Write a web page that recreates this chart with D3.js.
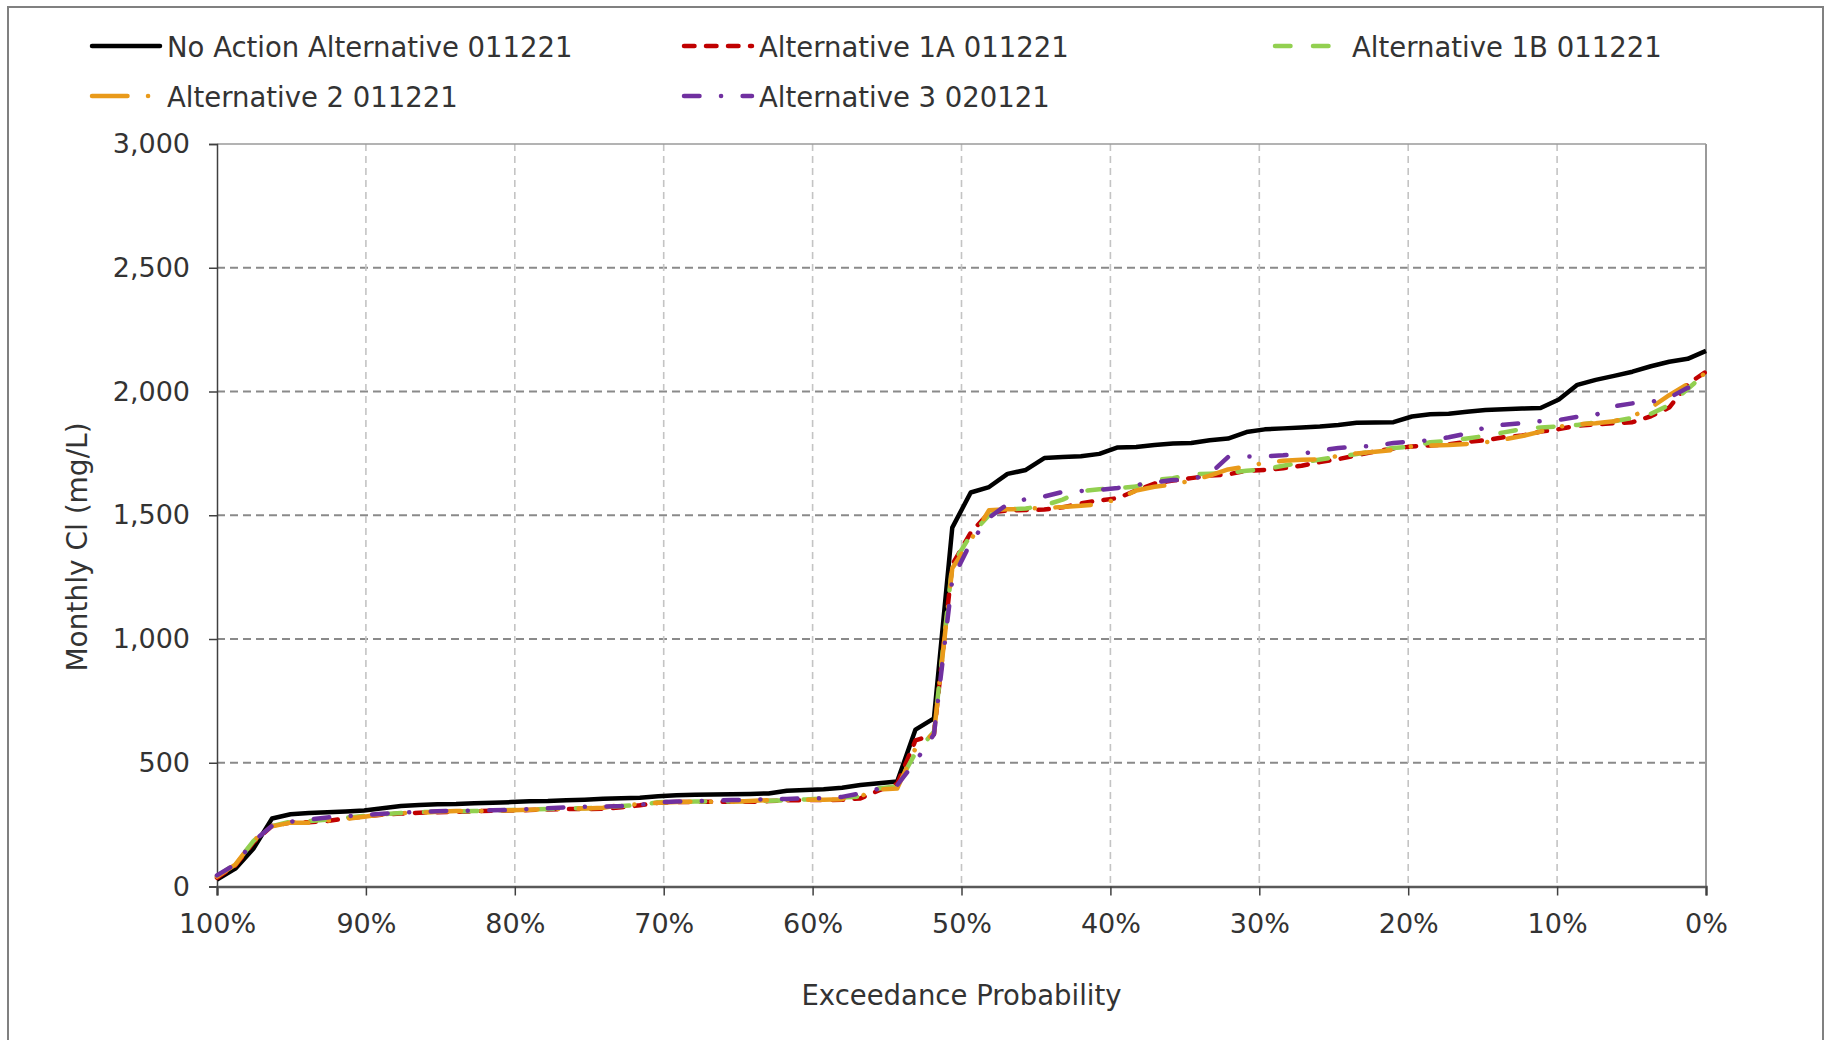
<!DOCTYPE html>
<html><head><meta charset="utf-8">
<script src="https://cdn.jsdelivr.net/npm/d3@7"></script>
<style>
body{margin:0;background:#fff}
svg{display:block}
text{font-family:"DejaVu Sans",sans-serif;fill:#333333}
</style>
</head><body>
<svg id="chart" width="1836" height="1040"></svg>
<script>
// ---------- DATA ----------
const exceedance = [100,98.77,97.53,96.30,95.06,93.83,92.59,91.36,90.12,88.89,87.65,86.42,85.19,83.95,82.72,81.48,80.25,79.01,77.78,76.54,75.31,74.07,72.84,71.60,70.37,69.14,67.90,66.67,65.43,64.20,62.96,61.73,60.49,59.26,58.02,56.79,55.56,54.32,53.09,51.85,50.62,49.38,48.15,46.91,45.68,44.44,43.21,41.98,40.74,39.51,38.27,37.04,35.80,34.57,33.33,32.10,30.86,29.63,28.40,27.16,25.93,24.69,23.46,22.22,20.99,19.75,18.52,17.28,16.05,14.81,13.58,12.35,11.11,9.88,8.64,7.41,6.17,4.94,3.70,2.47,1.23,0];

const noAction = [28,72,155,275,292,297,300,303,307,316,325,329,332,333,336,338,341,344,345,348,351,355,357,359,365,369,371,372,373,374,376,387,390,393,399,410,417,424,634,679,1450,1592,1614,1667,1683,1731,1735,1738,1748,1774,1776,1784,1790,1792,1803,1810,1836,1847,1851,1855,1859,1865,1874,1875,1876,1899,1908,1910,1918,1925,1928,1931,1933,1968,2027,2047,2063,2080,2102,2120,2132,2164];

const alt1A = [35,85,180,245,258,260,265,275,283,290,295,298,300,302,304,306,307,309,311,313,313,314,320,328,338,341,342,342,342,342,345,348,349,349,350,356,388,415,590,615,1300,1430,1510,1519,1521,1523,1532,1548,1560,1569,1600,1628,1640,1650,1660,1665,1680,1683,1690,1700,1715,1727,1742,1758,1770,1778,1782,1787,1797,1803,1815,1822,1838,1848,1862,1867,1872,1876,1900,1935,2030,2080];

const alt1B = [42,90,185,244,262,264,270,278,285,292,297,300,302,304,305,307,309,311,313,316,316,320,325,330,340,342,343,343,344,345,346,348,352,356,360,363,396,405,540,625,1300,1420,1500,1524,1527,1540,1563,1597,1605,1609,1616,1643,1650,1665,1668,1672,1680,1686,1700,1712,1725,1737,1747,1760,1772,1777,1795,1800,1810,1821,1835,1848,1855,1859,1865,1875,1880,1893,1910,1945,2010,2075];

const alt2 = [40,88,187,243,258,258,266,273,282,292,297,298,302,305,305,306,308,310,312,314,315,318,330,332,338,341,343,342,342,345,349,349,350,351,353,365,392,396,558,619,1286,1400,1520,1524,1526,1530,1533,1538,1545,1565,1600,1615,1625,1640,1660,1685,1697,1712,1720,1724,1726,1740,1750,1757,1764,1778,1782,1784,1788,1795,1806,1820,1838,1858,1868,1872,1880,1900,1935,1985,2030,2075];

const alt3 = [45,90,184,245,262,271,279,284,288,294,298,302,304,306,306,308,309,313,316,320,322,323,325,330,340,343,344,347,349,350,353,354,356,357,362,376,395,410,505,615,1240,1390,1490,1545,1565,1576,1594,1598,1603,1610,1622,1633,1642,1645,1667,1735,1737,1738,1742,1748,1762,1772,1776,1781,1792,1798,1803,1815,1830,1855,1866,1872,1880,1885,1898,1905,1940,1952,1958,1975,2015,2020];

const seriesNames = ["No Action Alternative 011221","Alternative 1A 011221","Alternative 1B 011221","Alternative 2 011221","Alternative 3 020121"];
const seriesValues = [noAction, alt1A, alt1B, alt2, alt3];
const seriesColors = ["#000000","#c00000","#92d050","#e99a1a","#7030a0"];
const seriesDash = [null,"10.5,11.5","15.5,22.5","35.5,20.5,0.1,20.5","15.5,21.5,0.1,21.5"];

const yTicks = [0,500,1000,1500,2000,2500,3000];
const xTicks = [100,90,80,70,60,50,40,30,20,10,0];
const xTitle = "Exceedance Probability";
const yTitle = "Monthly Cl (mg/L)";

// ---------- LAYOUT ----------
const svg = d3.select("#chart");
const plot = {left:217, right:1706, top:144, bottom:886.5};
const x = d3.scaleLinear().domain([100,0]).range([plot.left, plot.right]);
const y = d3.scaleLinear().domain([0,3000]).range([plot.bottom, plot.top]);
const LW = 4.5;

// outer border (bottom edge runs off the page)
svg.append("rect").attr("x",8).attr("y",7).attr("width",1815).attr("height",1045)
  .attr("fill","#fff").attr("stroke","#808080").attr("stroke-width",2);

// horizontal gridlines
svg.append("g").selectAll("line").data(yTicks.filter(d=>d>0 && d<3000)).join("line")
  .attr("x1",plot.left).attr("x2",plot.right)
  .attr("y1",d=>y(d)).attr("y2",d=>y(d))
  .attr("stroke","#8a8a8a").attr("stroke-width",2).attr("stroke-dasharray","8,5");

// vertical gridlines
svg.append("g").selectAll("line").data(xTicks.filter(d=>d>0 && d<100)).join("line")
  .attr("x1",d=>x(d)).attr("x2",d=>x(d))
  .attr("y1",plot.top).attr("y2",plot.bottom)
  .attr("stroke","#c4c4c4").attr("stroke-width",1.6).attr("stroke-dasharray","7,5");

// top and right frame
svg.append("line").attr("x1",plot.left).attr("x2",plot.right).attr("y1",y(3000)).attr("y2",y(3000))
  .attr("stroke","#9a9a9a").attr("stroke-width",1.6);
svg.append("line").attr("x1",x(0)).attr("x2",x(0)).attr("y1",plot.top).attr("y2",plot.bottom)
  .attr("stroke","#9a9a9a").attr("stroke-width",2);

// axes
const yAxis = svg.append("g").attr("transform",`translate(${plot.left},0)`)
  .call(d3.axisLeft(y).tickValues(yTicks).tickFormat(d3.format(",")).tickSize(8).tickPadding(19));
const xAxis = svg.append("g").attr("transform",`translate(0,${plot.bottom})`)
  .call(d3.axisBottom(x).tickValues(xTicks).tickFormat(d=>d+"%").tickSize(9).tickPadding(18));
[yAxis,xAxis].forEach(a=>{
  a.selectAll("text").attr("font-size",27).attr("font-family","DejaVu Sans").attr("fill","#333333");
  a.selectAll(".tick line").attr("stroke","#404040").attr("stroke-width",1.5);
});
yAxis.select(".domain").attr("stroke","#404040").attr("stroke-width",1.5);
xAxis.select(".domain").attr("stroke","#595959").attr("stroke-width",2.5);

// series lines
const line = d3.line().x((d,i)=>x(exceedance[i])).y(d=>y(d));
svg.append("g").selectAll("path").data(seriesValues).join("path")
  .attr("d",d=>line(d))
  .attr("fill","none")
  .attr("stroke",(d,i)=>seriesColors[i])
  .attr("stroke-width",LW)
  .attr("stroke-linecap",(d,i)=>i===0?"butt":"round")
  .attr("stroke-linejoin","round")
  .attr("stroke-dasharray",(d,i)=>seriesDash[i]);

// axis titles
svg.append("text").attr("x",(plot.left+plot.right)/2).attr("y",1005)
  .attr("text-anchor","middle").attr("font-size",27.5).text(xTitle);
svg.append("text").attr("transform","translate(87,547) rotate(-90)")
  .attr("text-anchor","middle").attr("font-size",28).text(yTitle);

// legend
const legendPos = [
  {lx:92, ly:46},{lx:684, ly:46},{lx:1275, ly:46},
  {lx:92, ly:96},{lx:684, ly:96}
];
const lg = svg.append("g").selectAll("g").data(seriesNames).join("g")
  .attr("transform",(d,i)=>`translate(${legendPos[i].lx},${legendPos[i].ly})`);
lg.append("line").attr("x1",0).attr("x2",(d,i)=>i===2?60:68).attr("y1",0).attr("y2",0)
  .attr("stroke",(d,i)=>seriesColors[i]).attr("stroke-width",LW)
  .attr("stroke-linecap","round")
  .attr("stroke-dasharray",(d,i)=>seriesDash[i]);
lg.append("text").attr("x",(d,i)=>i===2?77:75).attr("y",11).attr("font-size",27.5).text(d=>d);
</script>
</body></html>
